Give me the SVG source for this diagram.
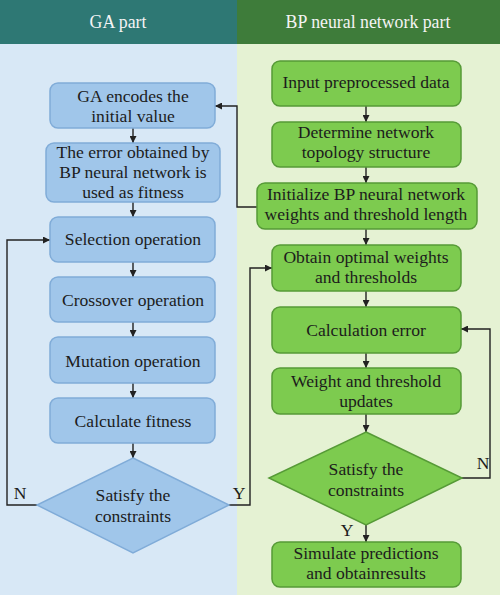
<svg xmlns="http://www.w3.org/2000/svg" width="500" height="595" viewBox="0 0 500 595">
<defs>
<style>
.t{font-family:'Liberation Serif','Times New Roman',serif;font-size:17.6px;fill:#1c1c1c;text-anchor:middle}
.h{font-family:'Liberation Serif','Times New Roman',serif;font-size:17.8px;fill:#f4f4f4;text-anchor:middle}
.b{fill:#a0c6ea;stroke:#80acd8;stroke-width:1.5}
.g{fill:#7dcb4f;stroke:#569a37;stroke-width:1.5}
.c{fill:none;stroke:#222;stroke-width:1.4}
</style>
<marker id="a" viewBox="0 0 10 10" refX="10" refY="5" markerWidth="7" markerHeight="7" orient="auto" markerUnits="userSpaceOnUse"><path d="M0,0 L10,5 L0,10 z" fill="#222"/></marker>
</defs>
<rect x="0" y="0" width="237" height="595" fill="#d8e8f6"/>
<rect x="237" y="0" width="263" height="595" fill="#e5f2d3"/>
<rect x="0" y="0" width="237" height="44" fill="#2e7874"/>
<rect x="237" y="0" width="263" height="44" fill="#3e7c3a"/>
<text class="h" x="118" y="28">GA part</text>
<text class="h" x="368" y="28">BP neural network part</text>

<g id="connectors">
<path class="c" d="M133,128 V143" marker-end="url(#a)"/>
<path class="c" d="M133,202 V217" marker-end="url(#a)"/>
<path class="c" d="M133,262 V277" marker-end="url(#a)"/>
<path class="c" d="M133,322 V337" marker-end="url(#a)"/>
<path class="c" d="M133,383 V398" marker-end="url(#a)"/>
<path class="c" d="M133,443 V458" marker-end="url(#a)"/>
<path class="c" d="M37,505 H7 V240 H50" marker-end="url(#a)"/>
<path class="c" d="M229,505 H250 V268 H272" marker-end="url(#a)"/>
<path class="c" d="M257,207 H237 V106 H215" marker-end="url(#a)"/>
<path class="c" d="M366,106 V122" marker-end="url(#a)"/>
<path class="c" d="M366,167 V183" marker-end="url(#a)"/>
<path class="c" d="M366,229 V245" marker-end="url(#a)"/>
<path class="c" d="M366,291 V307" marker-end="url(#a)"/>
<path class="c" d="M366,353 V368" marker-end="url(#a)"/>
<path class="c" d="M366,414 V432" marker-end="url(#a)"/>
<path class="c" d="M462,478 H490 V329 H461" marker-end="url(#a)"/>
<path class="c" d="M366,525 V542" marker-end="url(#a)"/>
<text class="t" x="20" y="499">N</text>
<text class="t" x="239" y="499">Y</text>
<text class="t" x="483" y="469">N</text>
<text class="t" x="347" y="536">Y</text>
</g>

<g id="ga1"><rect class="b" x="50" y="83" width="165" height="45" rx="8"/><text class="t" x="133" y="102">GA encodes the</text><text class="t" x="133" y="122">initial value</text></g>
<g id="ga2"><rect class="b" x="46" y="143" width="174" height="59" rx="8"/><text class="t" x="133" y="158">The error obtained by</text><text class="t" x="133" y="178">BP neural network is</text><text class="t" x="133" y="198">used as fitness</text></g>
<g id="ga3"><rect class="b" x="50" y="217" width="165" height="45" rx="8"/><text class="t" x="133" y="245">Selection operation</text></g>
<g id="ga4"><rect class="b" x="50" y="277" width="165" height="45" rx="8"/><text class="t" x="133" y="306">Crossover operation</text></g>
<g id="ga5"><rect class="b" x="50" y="337" width="165" height="46" rx="8"/><text class="t" x="133" y="367">Mutation operation</text></g>
<g id="ga6"><rect class="b" x="50" y="398" width="165" height="45" rx="8"/><text class="t" x="133" y="427">Calculate fitness</text></g>
<g id="ga7"><polygon class="b" points="133,458 229,505 133,553 37,505"/><text class="t" x="133" y="501">Satisfy the</text><text class="t" x="133" y="522">constraints</text></g>

<g id="bp1"><rect class="g" x="272" y="61" width="189" height="45" rx="8"/><text class="t" x="366" y="88">Input preprocessed data</text></g>
<g id="bp2"><rect class="g" x="272" y="122" width="189" height="45" rx="8"/><text class="t" x="366" y="138">Determine network</text><text class="t" x="366" y="158">topology structure</text></g>
<g id="bp3"><rect class="g" x="257" y="183" width="220" height="46" rx="8"/><text class="t" x="366" y="200">Initialize BP neural network</text><text class="t" x="366" y="220">weights and threshold length</text></g>
<g id="bp4"><rect class="g" x="272" y="245" width="189" height="46" rx="8"/><text class="t" x="366" y="263">Obtain optimal weights</text><text class="t" x="366" y="283">and thresholds</text></g>
<g id="bp5"><rect class="g" x="272" y="307" width="189" height="46" rx="8"/><text class="t" x="366" y="336">Calculation error</text></g>
<g id="bp6"><rect class="g" x="272" y="368" width="189" height="46" rx="8"/><text class="t" x="366" y="387">Weight and threshold</text><text class="t" x="366" y="407">updates</text></g>
<g id="bp7"><polygon class="g" points="366,432 462,478 366,525 269,478"/><text class="t" x="366" y="475">Satisfy the</text><text class="t" x="366" y="496">constraints</text></g>
<g id="bp8"><rect class="g" x="272" y="542" width="189" height="45" rx="8"/><text class="t" x="366" y="559">Simulate predictions</text><text class="t" x="366" y="579">and obtainresults</text></g>
</svg>
